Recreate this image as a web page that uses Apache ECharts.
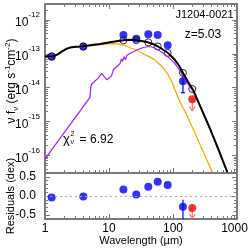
<!DOCTYPE html>
<html><head><meta charset="utf-8">
<script src="https://cdn.jsdelivr.net/npm/echarts@6/dist/echarts.min.js"></script>
<style>html,body{margin:0;padding:0;background:#fff}#c{width:249px;height:249px}</style>
</head><body><div id="c"></div>
<script>
// ---------- data (wavelength in micron, nu f_nu in erg s^-1 cm^-2) ----------
const totalLam = [1.0, 1.197, 1.382, 1.597, 1.843, 2.129, 2.458, 3.05, 3.786, 5.05, 7.23, 10.37, 13.82, 17.78, 22.07, 27.38, 33.98, 40.68, 52.33, 64.94, 83.53, 107.5, 124.1, 144.8, 171.6, 207.6, 245.8, 305.1, 378.6, 504.9, 705.3];
const totalFlux = [8.59e-14, 8.32e-14, 8.59e-14, 9.84e-14, 1.186e-13, 1.396e-13, 1.542e-13, 1.629e-13, 1.660e-13, 1.799e-13, 1.963e-13, 2.203e-13, 2.404e-13, 2.570e-13, 2.606e-13, 2.518e-13, 2.371e-13, 2.203e-13, 1.862e-13, 1.472e-13, 1.067e-13, 6.58e-14, 4.54e-14, 2.65e-14, 1.496e-14, 8.45e-15, 4.04e-15, 1.574e-15, 6.14e-16, 1.600e-16, 3.19e-17];

const agnLam = [1.0, 1.197, 1.382, 1.597, 1.843, 2.129, 2.458, 3.05, 3.786, 5.05, 7.23, 10.37, 13.82, 17.16, 21.29, 27.38, 35.24, 43.72, 52.33, 66.6, 83.53, 96.5, 116.7, 133.4, 156.8, 189.1, 264.2, 411.4];
const agnFlux = [8.5e-14, 8.2e-14, 8.5e-14, 9.7e-14, 1.17e-13, 1.38e-13, 1.52e-13, 1.60e-13, 1.63e-13, 1.741e-13, 1.862e-13, 2.018e-13, 1.990e-13, 1.799e-13, 1.521e-13, 1.285e-13, 9.84e-14, 8.04e-14, 6.58e-14, 4.33e-14, 2.48e-14, 1.45e-14, 5.77e-15, 3.30e-15, 1.888e-15, 8.59e-16, 2.094e-16, 3.19e-17];

const sfLam = [1.0, 5.05, 5.195, 5.366, 6.04, 6.73, 7.69, 8.35, 9.31, 10.0, 10.94, 11.76, 13.34, 14.85, 15.68, 16.25, 17.16, 18.10, 19.11, 21.83, 24.14, 27.68, 34.36, 41.13, 48.70, 56.23, 67.3, 80.6, 93.1, 107.5, 119.7, 133.4, 148.5, 171.6, 207.6, 245.8, 305.1, 378.6, 504.9, 705.3];
const sfFlux = [7.80e-17, 5.18e-15, 1.035e-14, 1.265e-14, 1.581e-14, 1.892e-14, 2.65e-14, 2.17e-14, 1.714e-14, 1.832e-14, 2.24e-14, 3.47e-14, 4.25e-14, 5.19e-14, 7.26e-14, 5.94e-14, 8.32e-14, 6.79e-14, 9.20e-14, 1.067e-13, 1.164e-13, 1.331e-13, 1.552e-13, 1.660e-13, 1.574e-13, 1.377e-13, 1.125e-13, 8.59e-14, 6.79e-14, 5.19e-14, 3.84e-14, 2.84e-14, 1.958e-14, 1.265e-14, 7.64e-15, 3.90e-15, 1.542e-15, 6.05e-16, 1.589e-16, 3.19e-17];

const obsLam = [1.27, 3.97, 16.8, 26.7, 41.1, 57.7, 82.6, 143];
const obsFlux = [8.2e-14, 1.66e-13, 3.6e-13, 2.82e-13, 3.82e-13, 3.61e-13, 1.80e-13, 1.55e-14];
const obsResid = [-0.04, -0.01, 0.17, 0.04, 0.24, 0.37, 0.29, -0.28];

const errLam = [143];
const errFluxHi = [2.45e-14];
const errFluxLo = [7.1e-15];
const errResidHi = [-0.10];
const errResidLo = [-0.64];

const modelLam = [1.27, 3.97, 16.8, 26.7, 41.1, 57.7, 82.6, 143, 200];
const modelFlux = [8.5e-14, 1.66e-13, 2.54e-13, 2.54e-13, 2.20e-13, 1.67e-13, 1.07e-13, 2.74e-14, 9.16e-15];

const limLam = [200];
const limFlux = [4.6e-15];
const limFluxEnd = [2.1e-15];
const limResid = [-0.31];
const limResidEnd = [-0.58];

const xRange = [1, 1000];
const yRange = [3e-17, 3e-12];
const rRange = [-0.6, 0.6];
const xTickVals = [1, 10, 100, 1000];
const yTickExps = [-16, -15, -14, -13, -12];
const rTickVals = [-0.5, 0.0, 0.5];
const rMinorVals = [-0.4, -0.3, -0.2, -0.1, 0.1, 0.2, 0.3, 0.4];

// ---------- helpers ----------
const L = Math.log10;
const pairs = (xs, ys) => xs.map((x, i) => [L(x), L(ys[i])]);
const F = '"Liberation Sans", Arial, Helvetica, sans-serif';
const AX = '#7a7a7a';
const xMin = L(xRange[0]), xMax = L(xRange[1]);
const yMin = L(yRange[0]), yMax = L(yRange[1]);

const xMajor = xTickVals.map(L);
const xMinor = [];
for (let n = 0; n < 3; n++) for (let k = 2; k <= 9; k++) xMinor.push(n + L(k));
const yMinor = [];
for (let n = -17; n <= -12; n++) for (let k = 2; k <= 9; k++) { const v = n + L(k); if (v > yMin && v < yMax) yMinor.push(v); }

function ax(gridIndex, position, min, max, extra) {
  return Object.assign({
    type: 'value', gridIndex, position, min, max,
    splitLine: { show: false },
    axisLine: { show: false, onZero: false },
    axisTick: { show: false },
    axisLabel: { show: false },
    nameMoveOverlap: false
  }, extra || {});
}
const line = { show: true, onZero: false, lineStyle: { color: AX, width: 2 } };
const majT = vals => ({ show: true, inside: true, length: 5, customValues: vals, lineStyle: { color: AX, width: 1 } });
const minT = vals => ({ show: true, inside: true, length: 3, customValues: vals, lineStyle: { color: AX, width: 1 } });

const xAxis = [
  ax(0, 'bottom', xMin, xMax, { axisLine: line, axisTick: majT(xMajor) }),
  ax(0, 'top', xMin, xMax, { axisLine: line, axisTick: majT(xMajor) }),
  ax(0, 'bottom', xMin, xMax, { axisTick: minT(xMinor) }),
  ax(0, 'top', xMin, xMax, { axisTick: minT(xMinor) }),
  ax(1, 'bottom', xMin, xMax, {
    axisLine: line, axisTick: majT(xMajor),
    axisLabel: { show: true, customValues: xMajor, margin: 3, fontSize: 12, lineHeight: 14, fontFamily: F, color: '#000',
      formatter: v => { const s = String(Math.round(Math.pow(10, v))); return s.length > 3 ? '{r|' + s + '}' : s; },
      rich: { r: { fontSize: 12, lineHeight: 14, fontFamily: F, color: '#000', padding: [0, 5, 0, 0] } } },
    name: 'Wavelength (µm)', nameLocation: 'middle', nameGap: 15,
    nameTextStyle: { fontSize: 11, lineHeight: 14, fontFamily: F, color: '#000' }
  }),
  ax(1, 'top', xMin, xMax, { axisLine: line }),
  ax(1, 'bottom', xMin, xMax, { axisTick: minT(xMinor) })
];

const yAxis = [
  ax(0, 'left', yMin, yMax, {
    axisLine: line, axisTick: majT(yTickExps),
    axisLabel: { show: true, customValues: yTickExps, margin: 5,
      formatter: v => '{b|10}{s|' + Math.round(v) + '}',
      rich: {
        b: { fontSize: 12, fontFamily: F, color: '#000', lineHeight: 18, verticalAlign: 'bottom' },
        s: { fontSize: 8, fontFamily: F, color: '#000', lineHeight: 9, verticalAlign: 'top' }
      } }
  }),
  ax(0, 'right', yMin, yMax, { axisLine: line, axisTick: majT(yTickExps) }),
  ax(0, 'left', yMin, yMax, { axisTick: minT(yMinor) }),
  ax(0, 'right', yMin, yMax, { axisTick: minT(yMinor) }),
  ax(1, 'left', rRange[0], rRange[1], {
    axisLine: line, axisTick: majT(rTickVals),
    axisLabel: { show: true, customValues: rTickVals, margin: 9, fontSize: 12, fontFamily: F, color: '#000',
      formatter: v => v.toFixed(1) },
    name: 'Residuals (dex)', nameLocation: 'middle', nameGap: 27,
    nameTextStyle: { fontSize: 11, lineHeight: 14, fontFamily: F, color: '#000' }
  }),
  ax(1, 'right', rRange[0], rRange[1], { axisLine: line, axisTick: majT(rTickVals) }),
  ax(1, 'left', rRange[0], rRange[1], { axisTick: minT(rMinorVals) }),
  ax(1, 'right', rRange[0], rRange[1], { axisTick: minT(rMinorVals) })
];

const errBar = color => (params, api) => {
  const x = api.value(0);
  const a = api.coord([x, api.value(1)]), b = api.coord([x, api.value(2)]);
  return { type: 'group', children: [
    { type: 'line', shape: { x1: a[0], y1: a[1], x2: b[0], y2: b[1] }, style: { stroke: color, lineWidth: 1.2 } },
    { type: 'line', shape: { x1: b[0] - 2, y1: b[1], x2: b[0] + 2, y2: b[1] }, style: { stroke: color, lineWidth: 1.2 } }
  ] };
};
const arrow = color => (params, api) => {
  const x = api.value(0);
  const a = api.coord([x, api.value(1)]), b = api.coord([x, api.value(2)]);
  return { type: 'group', children: [
    { type: 'line', shape: { x1: a[0], y1: a[1], x2: b[0], y2: b[1] }, style: { stroke: color, lineWidth: 1.2 } },
    { type: 'polyline', shape: { points: [[b[0] - 3, b[1] - 4], [b[0], b[1]], [b[0] + 3, b[1] - 4]] }, style: { stroke: color, lineWidth: 1.2, fill: 'none' } }
  ] };
};
const lineSeries = (data, color, width) => ({
  type: 'line', xAxisIndex: 0, yAxisIndex: 0, data, symbol: 'none', showSymbol: false,
  lineStyle: { color, width }, silent: true, clip: true
});

const series = [
  lineSeries(pairs(agnLam, agnFlux), '#ffa500', 1.2),
  lineSeries(pairs(sfLam, sfFlux), '#a020f0', 1.2),
  lineSeries(pairs(totalLam, totalFlux), '#000000', 2),
  { type: 'custom', xAxisIndex: 0, yAxisIndex: 0, clip: true, silent: true,
    data: errLam.map((l, i) => [L(l), L(errFluxHi[i]), L(errFluxLo[i])]), renderItem: errBar('#0000ff') },
  { type: 'custom', xAxisIndex: 0, yAxisIndex: 0, clip: true, silent: true,
    data: limLam.map((l, i) => [L(l), L(limFlux[i]), L(limFluxEnd[i])]), renderItem: arrow('#ff7878') },
  { type: 'scatter', xAxisIndex: 0, yAxisIndex: 0, data: pairs(obsLam, obsFlux), symbolSize: 8, itemStyle: { color: '#0000ff' }, silent: true },
  { type: 'scatter', xAxisIndex: 0, yAxisIndex: 0, data: pairs(limLam, limFlux), symbolSize: 8, itemStyle: { color: '#ff0000' }, silent: true },
  { type: 'scatter', xAxisIndex: 0, yAxisIndex: 0, data: pairs(modelLam, modelFlux), symbolSize: 7,
    itemStyle: { color: 'rgba(0,0,0,0)', borderColor: '#000', borderWidth: 1 }, silent: true },
  // residuals
  { type: 'custom', xAxisIndex: 4, yAxisIndex: 4, clip: true, silent: true,
    data: errLam.map((l, i) => [L(l), errResidHi[i], errResidLo[i]]), renderItem: errBar('#0000ff') },
  { type: 'custom', xAxisIndex: 4, yAxisIndex: 4, clip: true, silent: true,
    data: limLam.map((l, i) => [L(l), limResid[i], limResidEnd[i]]), renderItem: arrow('#ff7878') },
  { type: 'scatter', xAxisIndex: 4, yAxisIndex: 4, data: obsLam.map((l, i) => [L(l), obsResid[i]]), symbolSize: 8,
    itemStyle: { color: '#0000ff' }, silent: true,
    markLine: { silent: true, symbol: 'none', label: { show: false }, animation: false,
      lineStyle: { color: '#aaaaaa', width: 1, type: [2, 3] }, data: [{ yAxis: 0 }] } },
  { type: 'scatter', xAxisIndex: 4, yAxisIndex: 4, data: limLam.map((l, i) => [L(l), limResid[i]]), symbolSize: 8,
    itemStyle: { color: '#ff0000' }, silent: true }
];

const txt = (x, y, text, size, align) => ({
  type: 'text', x, y, silent: true,
  style: { text, font: size + 'px ' + F, fontSize: size, fontFamily: F, fill: '#000',
    align: align || 'center', textAlign: align || 'center', verticalAlign: 'middle', textVerticalAlign: 'middle' }
});

const yTitle = {
  type: 'text', x: 12, y: 81, rotation: Math.PI / 2, silent: true,
  style: {
    text: '{n|ν f}{sb|ν}{n| (erg s}{sp|-1}{n|cm}{sp|-2}{n|)}',
    align: 'center', verticalAlign: 'middle', textAlign: 'center', textVerticalAlign: 'middle',
    rich: {
      n: { fontSize: 12, fontFamily: F, fill: '#000', color: '#000', lineHeight: 16 },
      sp: { fontSize: 8, fontFamily: F, fill: '#000', color: '#000', lineHeight: 8, verticalAlign: 'top' },
      sb: { fontSize: 8, fontFamily: F, fill: '#000', color: '#000', lineHeight: 8, verticalAlign: 'bottom' }
    }
  }
};

const chart = echarts.init(document.getElementById('c'), null, { renderer: 'canvas', width: 249, height: 249 });
chart.setOption({
  animation: false,
  backgroundColor: '#fff',
  grid: [
    { left: 45, top: 4, width: 192, height: 169, containLabel: false, outerBoundsMode: 'none' },
    { left: 45, top: 173, width: 192, height: 46, containLabel: false, outerBoundsMode: 'none' }
  ],
  xAxis, yAxis, series,
  graphic: [
    yTitle,
    txt(204.5, 15.3, 'J1204-0021', 11),
    txt(203, 34.2, 'z=5.03', 12),
    txt(63, 139, 'χ', 13, 'left'),
    txt(70.5, 133.8, '2', 7, 'left'),
    txt(70.5, 141.7, 'ν', 7, 'left'),
    txt(79.5, 139.5, '=', 12, 'left'),
    txt(90, 139.2, '6.92', 12, 'left')
  ]
});
</script></body></html>
